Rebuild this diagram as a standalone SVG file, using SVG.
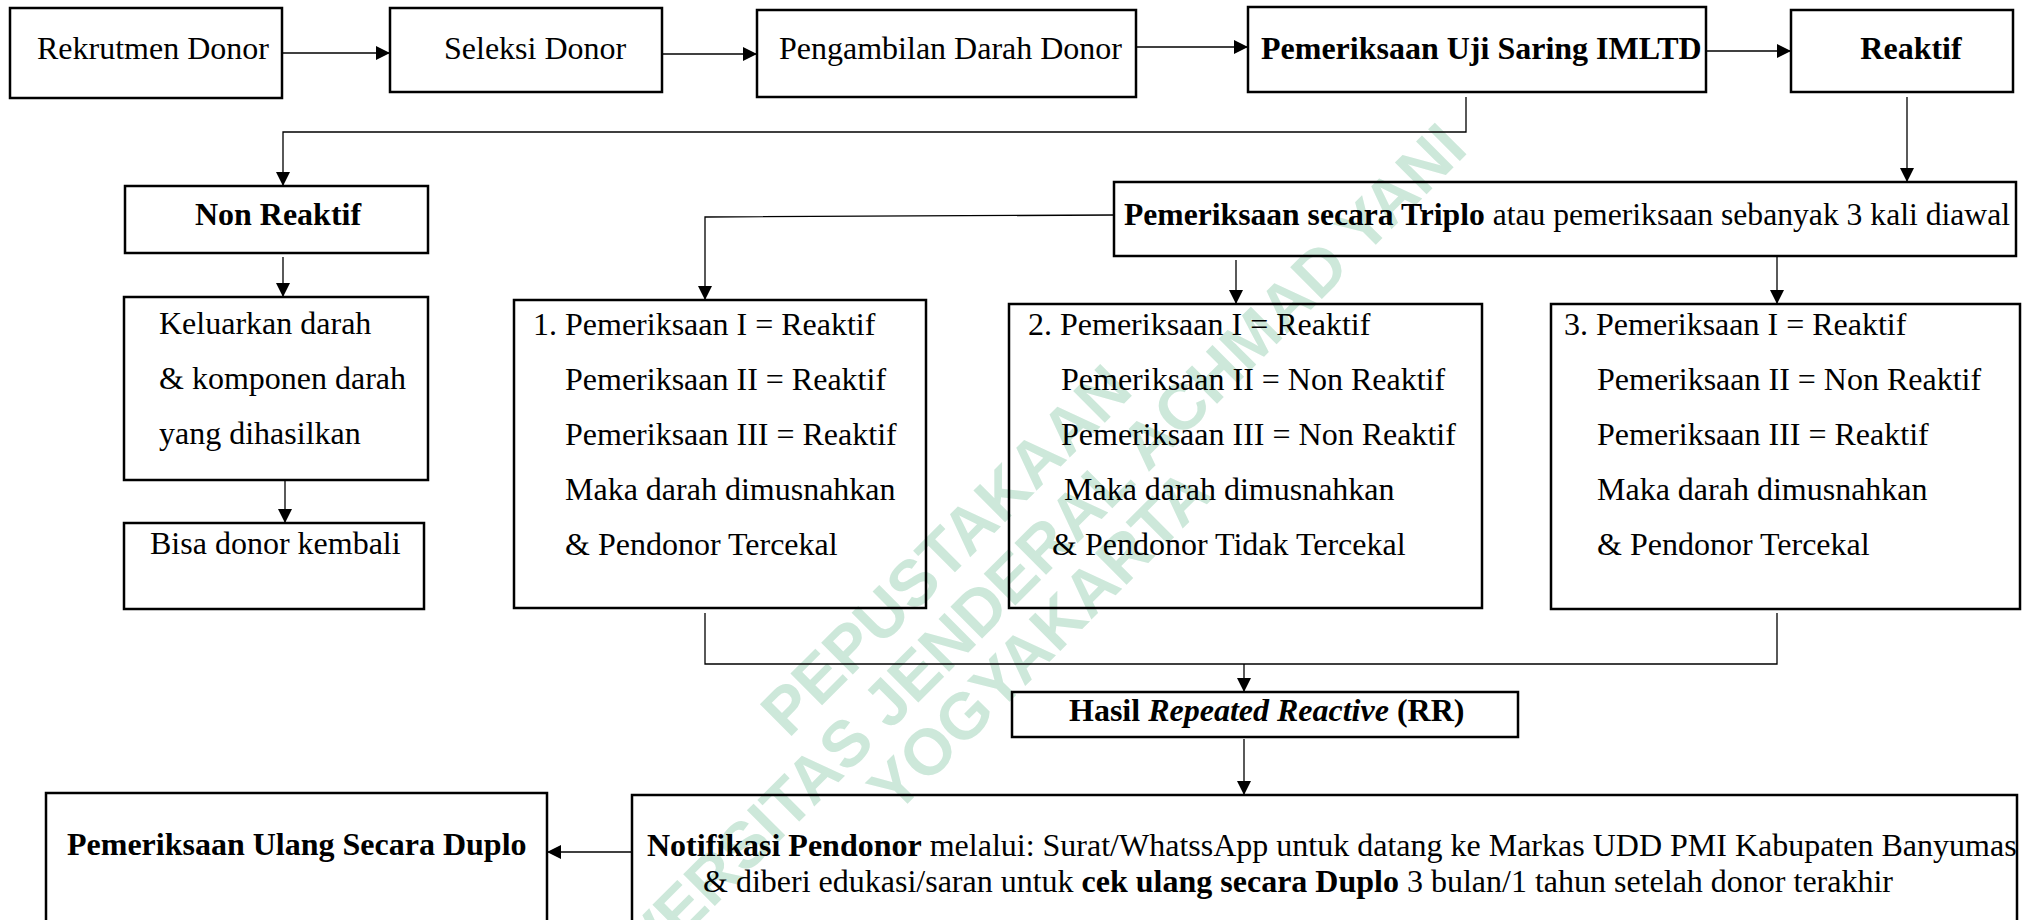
<svg xmlns="http://www.w3.org/2000/svg" width="2039" height="920" viewBox="0 0 2039 920">
<defs>
<marker id="ah" markerUnits="userSpaceOnUse" markerWidth="15" markerHeight="15" refX="14" refY="7" orient="auto">
<path d="M0,0 L14,7 L0,14 z" fill="#000"/>
</marker>
<style>
.box{fill:none;stroke:#000;stroke-width:2.5}
.t{font-family:"Liberation Serif","Times New Roman",serif;font-size:32px;fill:#000}
.b{font-weight:bold}
.c{fill:none;stroke:#000;stroke-width:1.3}
.a{marker-end:url(#ah)}
.wm{font-family:"Liberation Sans",Arial,sans-serif;font-weight:bold;font-size:65px;fill:#cde8da;text-anchor:middle}
</style>
</defs>
<rect width="2039" height="920" fill="#fff"/>
<g id="watermark" transform="rotate(-45)">
<text class="wm" x="280" y="1080">PEPUSTAKAAN</text>
<text class="wm" x="297" y="1146">UNIVERSITAS JENDERAL ACHMAD YANI</text>
<text class="wm" x="282" y="1210">YOGYAKARTA</text>
</g>
<g id="connectors">
<path class="c a" d="M282,53 H390"/>
<path class="c a" d="M662,54 H757"/>
<path class="c a" d="M1136,47 H1248"/>
<path class="c a" d="M1706,51 H1791"/>
<path class="c a" d="M1466,97 V132 H283 V186"/>
<path class="c a" d="M1907,97 V182"/>
<path class="c a" d="M283,257 V297"/>
<path class="c a" d="M285,480 V523"/>
<path class="c a" d="M1114,215 L705,217 V300"/>
<path class="c a" d="M1236,260 V304"/>
<path class="c a" d="M1777,257 V304"/>
<path class="c" d="M705,613 V664 H1777 V613"/>
<path class="c a" d="M1244,664 V692"/>
<path class="c a" d="M1244,739 V795"/>
<path class="c a" d="M632,852 H547"/>
</g>
<g id="rekrutmen"><rect class="box" x="10" y="8" width="272" height="90"/><text class="t" x="37" y="59">Rekrutmen Donor</text></g>
<g id="seleksi"><rect class="box" x="390" y="8" width="272" height="84"/><text class="t" x="444" y="59">Seleksi Donor</text></g>
<g id="pengambilan"><rect class="box" x="757" y="10" width="379" height="87"/><text class="t" x="779" y="59">Pengambilan Darah Donor</text></g>
<g id="imltd"><rect class="box" x="1248" y="7" width="458" height="85"/><text class="t b" x="1261" y="59">Pemeriksaan Uji Saring IMLTD</text></g>
<g id="reaktif"><rect class="box" x="1791" y="10" width="222" height="82"/><text class="t b" x="1911" y="59" text-anchor="middle">Reaktif</text></g>
<g id="nonreaktif"><rect class="box" x="125" y="186" width="303" height="67"/><text class="t b" x="278" y="225" text-anchor="middle">Non Reaktif</text></g>
<g id="keluarkan"><rect class="box" x="124" y="297" width="304" height="183"/>
<text class="t" x="159" y="334">Keluarkan darah</text>
<text class="t" x="159" y="389">&amp; komponen darah</text>
<text class="t" x="159" y="444">yang dihasilkan</text></g>
<g id="bisa"><rect class="box" x="124" y="523" width="300" height="86"/><text class="t" x="150" y="554">Bisa donor kembali</text></g>
<g id="triplo"><rect class="box" x="1114" y="182" width="902" height="74"/><text class="t" x="1124" y="225" textLength="886" lengthAdjust="spacingAndGlyphs"><tspan class="b">Pemeriksaan secara Triplo</tspan> atau pemeriksaan sebanyak 3 kali diawal</text></g>
<g id="hasil1"><rect class="box" x="514" y="300" width="412" height="308"/>
<text class="t" x="533" y="335">1. Pemeriksaan I = Reaktif</text>
<text class="t" x="565" y="390">Pemeriksaan II = Reaktif</text>
<text class="t" x="565" y="445">Pemeriksaan III = Reaktif</text>
<text class="t" x="565" y="500">Maka darah dimusnahkan</text>
<text class="t" x="565" y="555">&amp; Pendonor Tercekal</text></g>
<g id="hasil2"><rect class="box" x="1009" y="304" width="473" height="304"/>
<text class="t" x="1028" y="335">2. Pemeriksaan I = Reaktif</text>
<text class="t" x="1061" y="390">Pemeriksaan II = Non Reaktif</text>
<text class="t" x="1061" y="445">Pemeriksaan III = Non Reaktif</text>
<text class="t" x="1064" y="500">Maka darah dimusnahkan</text>
<text class="t" x="1052" y="555">&amp; Pendonor Tidak Tercekal</text></g>
<g id="hasil3"><rect class="box" x="1551" y="304" width="469" height="305"/>
<text class="t" x="1564" y="335">3. Pemeriksaan I = Reaktif</text>
<text class="t" x="1597" y="390">Pemeriksaan II = Non Reaktif</text>
<text class="t" x="1597" y="445">Pemeriksaan III = Reaktif</text>
<text class="t" x="1597" y="500">Maka darah dimusnahkan</text>
<text class="t" x="1597" y="555">&amp; Pendonor Tercekal</text></g>
<g id="rr"><rect class="box" x="1012" y="692" width="506" height="45"/><text class="t b" x="1069" y="721">Hasil <tspan font-style="italic">Repeated Reactive</tspan> (RR)</text></g>
<g id="notifikasi"><rect class="box" x="632" y="795" width="1385" height="140"/>
<text class="t" x="647" y="856"><tspan class="b">Notifikasi Pendonor</tspan> melalui: Surat/WhatssApp untuk datang ke Markas UDD PMI Kabupaten Banyumas</text>
<text class="t" x="703" y="892">&amp; diberi edukasi/saran untuk <tspan class="b">cek ulang secara Duplo</tspan> 3 bulan/1 tahun setelah donor terakhir</text></g>
<g id="duplo"><rect class="box" x="46" y="793" width="501" height="140"/><text class="t b" x="67" y="855">Pemeriksaan Ulang Secara Duplo</text></g>
</svg>
